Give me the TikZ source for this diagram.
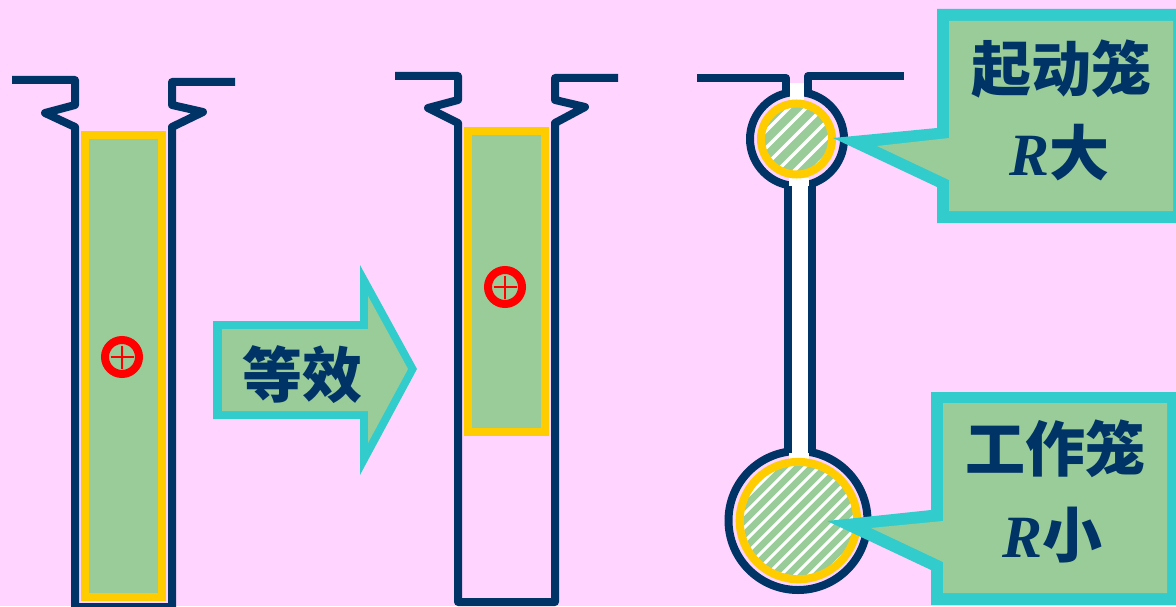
\documentclass[tikz,border=0pt]{standalone}
\usepackage{fontspec}
\usepackage{xcolor}
\usepackage{tikz}
\newfontfamily\cjk{Noto Sans CJK SC}
\newfontfamily\rvar{Liberation Serif}
\newcommand{\rsym}{{\rvar\itshape R}}
\definecolor{cbg}{HTML}{FFD4FF}
\definecolor{cnavy}{HTML}{003366}
\definecolor{cyellow}{HTML}{FFCC00}
\definecolor{cgreen}{HTML}{99CC99}
\definecolor{ccyan}{HTML}{33CCCC}
\definecolor{cred}{HTML}{FF0000}
\tikzset{
  cslot/.style={draw=cnavy, line width=6pt, line join=round},
  cbar/.style={draw=cyellow, fill=cgreen, line width=6pt},
  cring/.style={draw=cred, line width=6pt},
  ctick/.style={draw=cred, line width=2pt},
  cneck/.style={fill=white},
  chatch/.style={white, line width=2.2pt},
  cedge/.style={fill=ccyan},
  cface/.style={fill=cgreen},
  clbl/.style={text=cnavy, inner sep=0pt, font=\cjk\bfseries\fontsize{45}{50}\selectfont},
}

\begin{document}
\begin{tikzpicture}[x=0.75pt,y=-0.75pt]

  \useasboundingbox (0,0) rectangle (1176,606);
  \fill[cbg] (0,0) rectangle (1176,606);

  % --- deep bar ---
  \draw[cslot] (12,80) -- (75,80) -- (75,105) -- (45,113) -- (75,127) -- (75,607)
    -- (172,607) -- (172,127) -- (203,112) -- (172,105) -- (172,82) -- (235,82);
  \draw[cbar] (85,135) rectangle (162,597);
  \draw[cring] (122,357) circle (17);
  \draw[ctick] (110.5,357) -- (133.5,357);
  \draw[ctick] (122,345.5) -- (122,368.5);

  % --- arrow ---
  \fill[cedge] (213,321) -- (360,321) -- (360,265) -- (417,369) -- (360,475)
    -- (360,419) -- (213,419) -- cycle;
  \fill[cface] (222,329) -- (368,329) -- (368,296) -- (408,369) -- (368,443)
    -- (368,411) -- (222,411) -- cycle;
  \node[clbl] (equiv) at (302.5,375) {等效};

  % --- equivalent bar ---
  \draw[cslot] (395,76) -- (458,76) -- (458,100) -- (428,108) -- (458,123) -- (458,602)
    -- (555,602) -- (555,123) -- (585,107) -- (555,100) -- (555,78) -- (618,78);
  \draw[cbar] (468,131) rectangle (545,432);
  \draw[cring] (505,287) circle (17);
  \draw[ctick] (493.5,287) -- (516.5,287);
  \draw[ctick] (505,275.5) -- (505,298.5);

  % --- double cage ---
  \draw[cslot] (697,78) -- (786,78) -- (786,94);
  \draw[cslot] (808,94) -- (808,76) -- (904,76);
  \draw[cslot] (797,139) circle (47);
  \draw[cslot] (788,186) -- (788,452);
  \draw[cslot] (812,186) -- (812,452);
  \draw[cslot] (798,520.5) circle (69.5);
  \fill[cneck] (790,83) rectangle (804,105);
  \fill[cneck] (789,178) rectangle (809,186);
  \fill[cneck] (792,186) rectangle (808,453);
  \fill[cneck] (789,453) rectangle (809,462);

  \begin{scope}
    \clip (796.5,139) circle (32);
    \fill[cgreen] (760,100) rectangle (835,180);
    \foreach \x in {780,797,...,900}
      \draw[chatch, line width=2.6pt] (\x,100) -- (\x-80,180);
  \end{scope}
  \draw[draw=cyellow, line width=6pt] (796.5,139) circle (35.5);

  \begin{scope}
    \clip (798.4,520.6) circle (55);
    \fill[cgreen] (740,460) rectangle (860,585);
    \foreach \x in {770,784,...,980}
      \draw[chatch] (\x,460) -- (\x-125,585);
  \end{scope}
  \draw[draw=cyellow, line width=6pt] (798.4,520.6) circle (58.7);

  % --- start cage callout ---
  \fill[cedge] (937,9) -- (1176,9) -- (1176,223) -- (937,223) -- (937,187) -- (833,138)
    -- (937,128) -- cycle;
  \fill[cface] (949,21) -- (1173,21) -- (1173,211) -- (949,211) -- (949,180) -- (877,146)
    -- (949,138) -- cycle;
  \node[clbl] (startlbl) at (1061.5,69) {起动笼};
  \node[clbl] (startres) at (1059.5,153) {\rsym 大};

  % --- working cage callout ---
  \fill[cedge] (931,392) -- (1176,392) -- (1176,605) -- (931,605) -- (931,570) -- (827,521)
    -- (931,510) -- cycle;
  \fill[cface] (943,403) -- (1167,403) -- (1167,593) -- (943,593) -- (943,562) -- (871,528)
    -- (943,521) -- cycle;
  \node[clbl] (worklbl) at (1055,449) {工作笼};
  \node[clbl] (workres) at (1052.5,535) {\rsym 小};

\end{tikzpicture}
\end{document}
